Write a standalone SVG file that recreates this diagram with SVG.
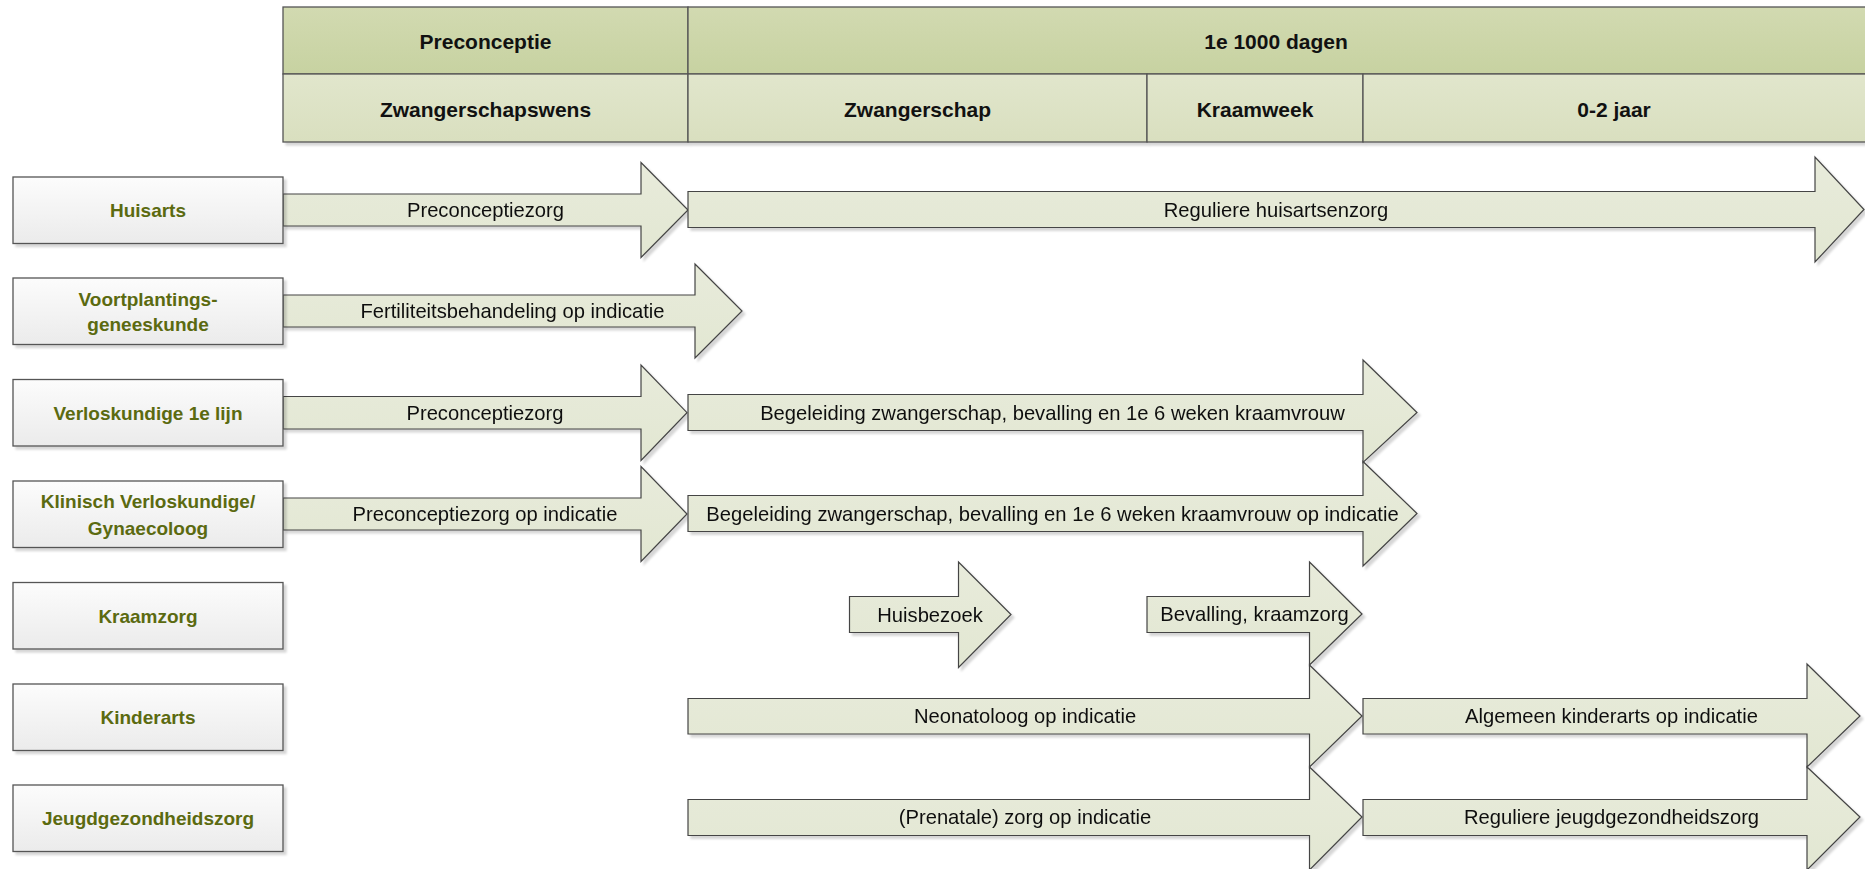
<svg xmlns="http://www.w3.org/2000/svg" width="1865" height="869" viewBox="0 0 1865 869">
<defs>
<linearGradient id="gHead1" x1="0" y1="0" x2="0" y2="1"><stop offset="0" stop-color="#d2dab1"/><stop offset="1" stop-color="#c7d2a1"/></linearGradient>
<linearGradient id="gHead2" x1="0" y1="0" x2="0" y2="1"><stop offset="0" stop-color="#e1e6cc"/><stop offset="1" stop-color="#d9dfbf"/></linearGradient>
<linearGradient id="gBox" x1="0" y1="0" x2="0" y2="1"><stop offset="0" stop-color="#fcfcfc"/><stop offset="1" stop-color="#ebebeb"/></linearGradient>
<linearGradient id="gArrow" x1="0" y1="0" x2="0" y2="1"><stop offset="0" stop-color="#e8ebdb"/><stop offset="1" stop-color="#e2e7d2"/></linearGradient>
<filter id="sh" x="-5%" y="-20%" width="110%" height="140%">
<feDropShadow dx="3" dy="3" stdDeviation="1.2" flood-color="#000" flood-opacity="0.16"/>
</filter>
</defs>
<style>
.hd1{fill:url(#gHead1);stroke:#555;stroke-width:1.3}
.hd2{fill:url(#gHead2);stroke:#555;stroke-width:1.3}
.ht{font-family:"Liberation Sans",Arial,sans-serif;font-weight:bold;font-size:21px;fill:#111;text-anchor:middle;dominant-baseline:central}
.box{fill:url(#gBox);stroke:#555;stroke-width:1.3}
.bt{font-family:"Liberation Sans",Arial,sans-serif;font-weight:bold;font-size:19px;fill:#5b6a10;text-anchor:middle;dominant-baseline:central}
.arr{fill:url(#gArrow);stroke:#444;stroke-width:1.2;stroke-linejoin:miter}
.at{font-family:"Liberation Sans",Arial,sans-serif;font-size:20.2px;fill:#111;text-anchor:middle;dominant-baseline:central}
</style>
<rect width="1865" height="869" fill="#fff"/>

<g id="header" filter="url(#sh)">
<rect class="hd1" x="283" y="7" width="405" height="67"/>
<rect class="hd1" x="688" y="7" width="1200" height="67"/>
<rect class="hd2" x="283" y="74" width="405" height="68"/>
<rect class="hd2" x="688" y="74" width="459" height="68"/>
<rect class="hd2" x="1147" y="74" width="216" height="68"/>
<rect class="hd2" x="1363" y="74" width="525" height="68"/>
</g>
<g id="header-text">
<text class="ht" x="485.5" y="41">Preconceptie</text>
<text class="ht" x="1276" y="41">1e 1000 dagen</text>
<text class="ht" x="485.5" y="109">Zwangerschapswens</text>
<text class="ht" x="917.5" y="109">Zwangerschap</text>
<text class="ht" x="1255" y="109">Kraamweek</text>
<text class="ht" x="1614" y="109">0-2 jaar</text>
</g>

<g id="connectors" filter="url(#sh)">
<g id="a1"><path class="arr" d="M283,194 L641,194 L641,162.5 L688,210 L641,257.5 L641,226 L283,226 Z"/><text class="at" x="485.5" y="210">Preconceptiezorg</text></g>
<g id="a2"><path class="arr" d="M688,191.5 L1815,191.5 L1815,157 L1864,209.5 L1815,262 L1815,227.5 L688,227.5 Z"/><text class="at" x="1276" y="209.5">Reguliere huisartsenzorg</text></g>
<g id="a3"><path class="arr" d="M283,295 L695,295 L695,264 L742,311 L695,358 L695,327 L283,327 Z"/><text class="at" x="512.5" y="311">Fertiliteitsbehandeling op indicatie</text></g>
<g id="a4"><path class="arr" d="M283,396.5 L641,396.5 L641,365 L687,412.7 L641,460.5 L641,429 L283,429 Z"/><text class="at" x="485" y="412.7">Preconceptiezorg</text></g>
<g id="a6"><path class="arr" d="M283,498 L641,498 L641,466.5 L687,514 L641,561.5 L641,530 L283,530 Z"/><text class="at" x="485" y="514">Preconceptiezorg op indicatie</text></g>
<g id="a7"><path class="arr" d="M688,495.5 L1363,495.5 L1363,461.5 L1417,513.5 L1363,566 L1363,531.5 L688,531.5 Z"/><text class="at" x="1052.5" y="513.5">Begeleiding zwangerschap, bevalling en 1e 6 weken kraamvrouw op indicatie</text></g>
<g id="a5"><path class="arr" d="M688,394.5 L1363,394.5 L1363,360 L1417,412.5 L1363,462.5 L1363,430.5 L688,430.5 Z"/><text class="at" x="1052.5" y="412.5">Begeleiding zwangerschap, bevalling en 1e 6 weken kraamvrouw</text></g>
<g id="a8"><path class="arr" d="M849.5,596.5 L958.5,596.5 L958.5,562 L1011,614.5 L958.5,667.5 L958.5,632.5 L849.5,632.5 Z"/><text class="at" x="930" y="614.5">Huisbezoek</text></g>
<g id="a12"><path class="arr" d="M688,799.5 L1309.5,799.5 L1309.5,767 L1362,817 L1309.5,870 L1309.5,835.5 L688,835.5 Z"/><text class="at" x="1025" y="817">(Prenatale) zorg op indicatie</text></g>
<g id="a13"><path class="arr" d="M1363,799.5 L1807,799.5 L1807,767 L1860,817 L1807,870 L1807,835.5 L1363,835.5 Z"/><text class="at" x="1611.5" y="817">Reguliere jeugdgezondheidszorg</text></g>
<g id="a10"><path class="arr" d="M688,698.5 L1309.5,698.5 L1309.5,665 L1362,716 L1309.5,767 L1309.5,734 L688,734 Z"/><text class="at" x="1025" y="716">Neonatoloog op indicatie</text></g>
<g id="a11"><path class="arr" d="M1363,698.5 L1807,698.5 L1807,664 L1860,716 L1807,767 L1807,734 L1363,734 Z"/><text class="at" x="1611.5" y="716">Algemeen kinderarts op indicatie</text></g>
<g id="a9"><path class="arr" d="M1147,596.5 L1309.5,596.5 L1309.5,562 L1362,614 L1309.5,665 L1309.5,632.5 L1147,632.5 Z"/><text class="at" x="1254.5" y="614">Bevalling, kraamzorg</text></g>
</g>

<g id="n-huisarts"><rect class="box" x="13" y="177" width="270" height="66.5" filter="url(#sh)"/><text class="bt" x="148" y="210">Huisarts</text></g>
<g id="n-voortplanting"><rect class="box" x="13" y="278" width="270" height="66.5" filter="url(#sh)"/><text class="bt" x="148" y="299">Voortplantings-</text><text class="bt" x="148" y="324">geneeskunde</text></g>
<g id="n-verloskundige"><rect class="box" x="13" y="379.5" width="270" height="66.5" filter="url(#sh)"/><text class="bt" x="148" y="413">Verloskundige 1e lijn</text></g>
<g id="n-klinisch"><rect class="box" x="13" y="481" width="270" height="66.5" filter="url(#sh)"/><text class="bt" x="148" y="501">Klinisch Verloskundige/</text><text class="bt" x="148" y="528">Gynaecoloog</text></g>
<g id="n-kraamzorg"><rect class="box" x="13" y="582.5" width="270" height="66.5" filter="url(#sh)"/><text class="bt" x="148" y="616">Kraamzorg</text></g>
<g id="n-kinderarts"><rect class="box" x="13" y="684" width="270" height="66.5" filter="url(#sh)"/><text class="bt" x="148" y="717">Kinderarts</text></g>
<g id="n-jeugd"><rect class="box" x="13" y="785" width="270" height="66.5" filter="url(#sh)"/><text class="bt" x="148" y="818">Jeugdgezondheidszorg</text></g>
</svg>
